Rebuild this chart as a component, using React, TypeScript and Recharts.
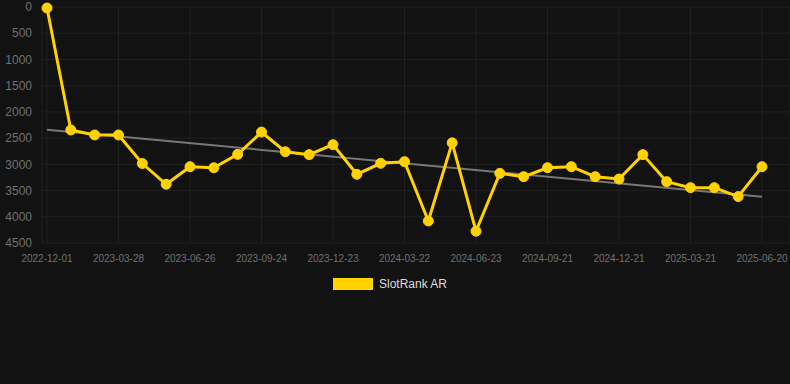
import React from "react";
import { LineChart, Line, XAxis, YAxis, CartesianGrid, Legend } from "recharts";

const dates = [
  "2022-12-01", "2023-01-29", "2023-02-27", "2023-03-28", "2023-04-27", "2023-05-27",
  "2023-06-26", "2023-07-26", "2023-08-25", "2023-09-24", "2023-10-24", "2023-11-23",
  "2023-12-23", "2024-01-22", "2024-02-21", "2024-03-22", "2024-04-22", "2024-05-23",
  "2024-06-23", "2024-07-23", "2024-08-22", "2024-09-21", "2024-10-21", "2024-11-21",
  "2024-12-21", "2025-01-20", "2025-02-19", "2025-03-21", "2025-04-21", "2025-05-21",
  "2025-06-20",
];

const rankValues = [
  20, 2345, 2440, 2440, 2985, 3380, 3045, 3065, 2810, 2385, 2760,
  2815, 2625, 3190, 2980, 2950, 4080, 2590, 4275, 3172, 3235,
  3065, 3045, 3235, 3280, 2815, 3330, 3445, 3445, 3615, 3045,
];

const trendStart = 2340;
const trendEnd = 3620;

const yTicks = [0, 500, 1000, 1500, 2000, 2500, 3000, 3500, 4000, 4500];

const data = dates.map((d, i) => ({
  date: d,
  rank: rankValues[i],
  trend: i === 0 ? trendStart : i === dates.length - 1 ? trendEnd : null,
}));

const FONT = "'Liberation Sans', Arial, sans-serif";

const LegendContent = () => (
  <div style={{ display: "flex", justifyContent: "center", alignItems: "center", fontFamily: FONT }}>
    <div style={{ width: 40, height: 12, background: "#FFD200", marginRight: 6, marginLeft: 6 }} />
    <span style={{ color: "#dddddd", fontSize: 12 }}>SlotRank AR</span>
  </div>
);

export default function App() {
  return (
    <div
      style={{
        position: "absolute",
        top: 0,
        left: 0,
        width: 790,
        height: 384,
        background: "#121212",
        fontFamily: FONT,
      }}
    >
      <LineChart
        width={790}
        height={310}
        data={data}
        margin={{ top: 7, right: 0, left: 0, bottom: 7 }}
      >
        <CartesianGrid stroke="#212121" strokeWidth={1} />
        <XAxis
          dataKey="date"
          interval={2}
          tick={{ fill: "#707070", fontSize: 10, fontFamily: FONT }}
          tickLine={false}
          axisLine={false}
          tickMargin={6}
          height={30}
          padding={{ left: 5, right: 28 }}
        />
        <YAxis
          reversed
          domain={[0, 4500]}
          ticks={yTicks}
          interval={0}
          width={42}
          tick={{ fill: "#707070", fontSize: 12, fontFamily: FONT }}
          tickLine={false}
          axisLine={false}
          tickMargin={4}
        />
        <Legend
          verticalAlign="bottom"
          height={30}
          content={<LegendContent />}
          wrapperStyle={{ top: 277, left: -8, width: 790 }}
        />
        <Line
          dataKey="trend"
          stroke="#777777"
          strokeWidth={2}
          dot={false}
          activeDot={false}
          connectNulls
          isAnimationActive={false}
          legendType="none"
        />
        <Line
          dataKey="rank"
          stroke="#FFD200"
          strokeWidth={3}
          dot={{ r: 5, fill: "#FFD200", stroke: "#FFD200", strokeWidth: 1 }}
          activeDot={false}
          isAnimationActive={false}
        />
      </LineChart>
    </div>
  );
}
